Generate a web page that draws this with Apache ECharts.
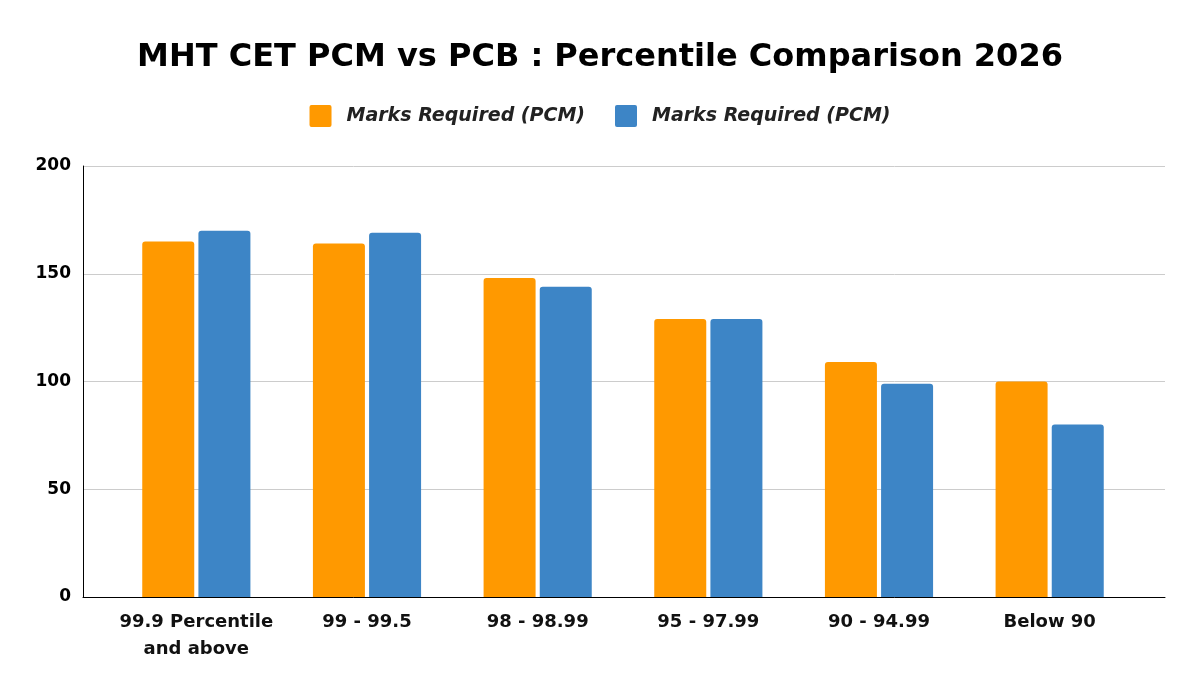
<!DOCTYPE html>
<html>
<head>
<meta charset="utf-8">
<script src="https://cdn.jsdelivr.net/npm/echarts@6/dist/echarts.min.js"></script>
<style>
  html, body { margin: 0; padding: 0; background: #fff; }
  #chart { width: 1200px; height: 696px; }
</style>
</head>
<body>
<div id="chart"></div>
<script>
// 数据
const categories = ["99.9 Percentile\nand above", "99 - 99.5", "98 - 98.99", "95 - 97.99", "90 - 94.99", "Below 90"];
const pcmMarks = [165, 164, 148, 129, 109, 100];
const pcbMarks = [170, 169, 144, 129, 99, 80];
const seriesKeys = ["PCM", "PCB"];
const legendLabels = ["Marks Required (PCM)", "Marks Required (PCM)"];
const yTicks = [0, 50, 100, 150, 200];

document.addEventListener("DOMContentLoaded", function () {
  const chart = echarts.init(document.getElementById("chart"));
  const font = "DejaVu Sans";

  const option = {
    animation: false,
    backgroundColor: "#ffffff",
    title: {
      text: "MHT CET PCM vs PCB : Percentile Comparison 2026",
      left: "center",
      top: 37,
      textStyle: { fontFamily: font, fontWeight: "bold", fontSize: 32, color: "#000" }
    },
    legend: {
      data: seriesKeys,
      top: 100,
      left: "center",
      // 小圆角方块
      icon: "path://M2,0H20Q22,0 22,2V20Q22,22 20,22H2Q0,22 0,20V2Q0,0 2,0Z",
      itemWidth: 22,
      itemHeight: 22,
      itemGap: 30,
      formatter: function (name) {
        return legendLabels[seriesKeys.indexOf(name)];
      },
      textStyle: {
        fontFamily: font, fontStyle: "italic", fontWeight: "bold",
        fontSize: 19, color: "#222", padding: [0, 0, 0, 10]
      }
    },
    grid: [
      // 网格线和 y 轴
      { left: 83, right: 35, top: 166, bottom: 99 },
      // 柱子
      { left: 111, right: 65, top: 166, bottom: 99 }
    ],
    xAxis: [
      {
        gridIndex: 0, type: "category", data: [""],
        axisLine: { lineStyle: { color: "#000", width: 1 } },
        axisTick: { show: false }, axisLabel: { show: false }
      },
      {
        gridIndex: 1, type: "category", data: categories,
        axisLine: { show: false }, axisTick: { show: false },
        axisLabel: {
          margin: 12, color: "#111", fontFamily: font, fontWeight: "bold",
          fontSize: 18, lineHeight: 27, interval: 0
        }
      }
    ],
    yAxis: [
      {
        gridIndex: 0, type: "value", min: yTicks[0], max: yTicks[yTicks.length - 1], interval: 50,
        axisLine: { show: true, lineStyle: { color: "#000", width: 1 } },
        axisTick: { show: false },
        splitLine: { lineStyle: { color: "#cccccc", width: 1 } },
        axisLabel: { margin: 12, color: "#000", fontFamily: font, fontWeight: "bold", fontSize: 17 }
      },
      {
        gridIndex: 1, type: "value", min: yTicks[0], max: yTicks[yTicks.length - 1], interval: 50,
        show: false, splitLine: { show: false }
      }
    ],
    series: [
      {
        name: seriesKeys[0], type: "bar", xAxisIndex: 1, yAxisIndex: 1,
        data: pcmMarks, barWidth: 52, barGap: "8%",
        itemStyle: { color: "#ff9900", borderRadius: [3, 3, 0, 0] }
      },
      {
        name: seriesKeys[1], type: "bar", xAxisIndex: 1, yAxisIndex: 1,
        data: pcbMarks, barWidth: 52, barGap: "8%",
        itemStyle: { color: "#3d85c6", borderRadius: [3, 3, 0, 0] }
      }
    ]
  };

  chart.setOption(option);
});
</script>
</body>
</html>
